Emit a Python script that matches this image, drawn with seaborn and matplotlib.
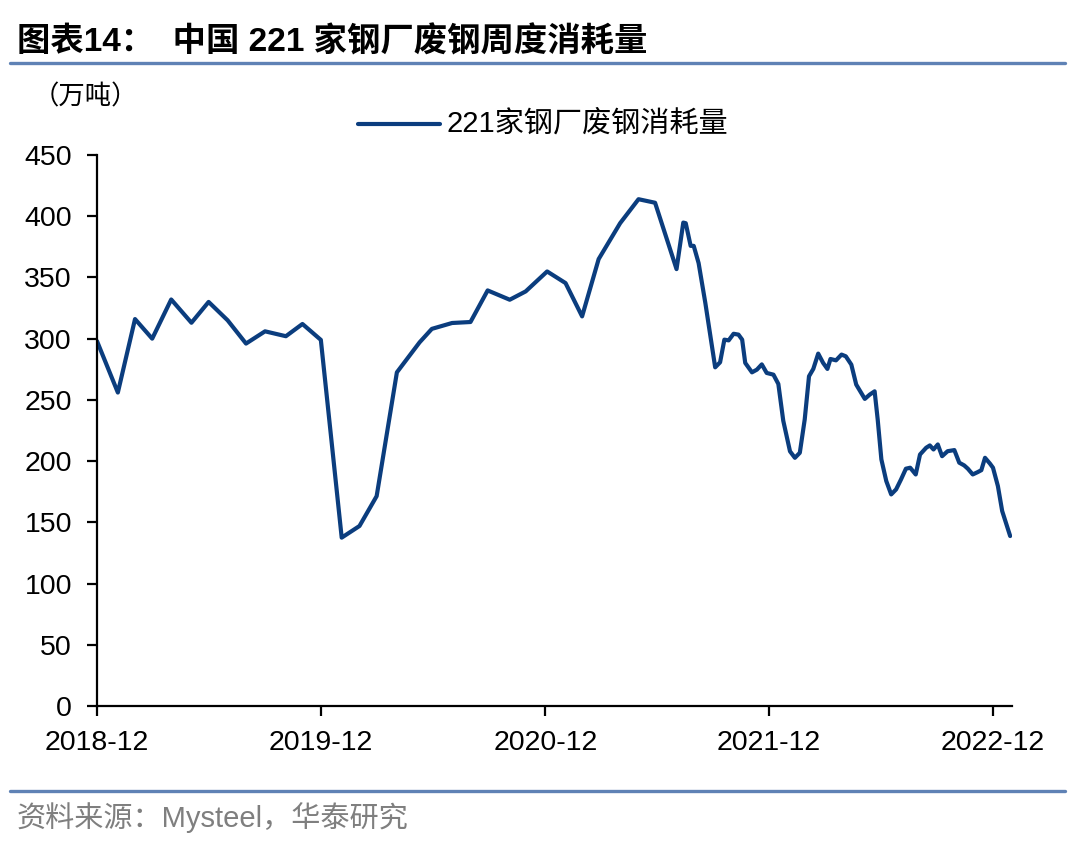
import matplotlib
matplotlib.use("Agg")
import matplotlib.pyplot as plt
import matplotlib.lines as mlines
import seaborn as sns
import pandas as pd

dates = [
    "2018-12-01", "2019-01-04", "2019-02-01", "2019-03-01", "2019-04-01", "2019-05-04",
    "2019-06-01", "2019-07-02", "2019-08-01", "2019-09-01", "2019-10-05", "2019-11-01",
    "2019-12-01", "2020-01-04", "2020-02-02", "2020-03-01", "2020-04-03", "2020-05-10",
    "2020-05-30", "2020-07-02", "2020-08-01", "2020-08-29", "2020-10-04", "2020-10-30",
    "2020-12-04", "2021-01-03", "2021-01-30", "2021-02-26", "2021-04-02", "2021-05-02",
    "2021-05-29", "2021-07-03", "2021-07-14", "2021-07-18", "2021-07-26", "2021-07-31",
    "2021-08-08", "2021-08-19", "2021-09-04", "2021-09-12", "2021-09-19", "2021-09-26",
    "2021-10-04", "2021-10-12", "2021-10-18", "2021-10-23", "2021-11-03", "2021-11-11",
    "2021-11-19", "2021-11-27", "2021-12-08", "2021-12-16", "2021-12-24", "2022-01-04",
    "2022-01-12", "2022-01-20", "2022-01-28", "2022-02-04", "2022-02-11", "2022-02-19",
    "2022-02-27", "2022-03-06", "2022-03-11", "2022-03-20", "2022-03-29", "2022-04-05",
    "2022-04-14", "2022-04-22", "2022-05-06", "2022-05-14", "2022-05-22", "2022-05-27",
    "2022-06-02", "2022-06-10", "2022-06-18", "2022-06-26", "2022-07-04", "2022-07-12",
    "2022-07-19", "2022-07-28", "2022-08-04", "2022-08-14", "2022-08-20", "2022-08-26",
    "2022-09-02", "2022-09-09", "2022-09-18", "2022-09-29", "2022-10-07", "2022-10-15",
    "2022-10-21", "2022-10-29", "2022-11-06", "2022-11-12", "2022-11-18", "2022-11-26",
    "2022-12-01", "2022-12-09", "2022-12-16", "2022-12-29",
]
consumption = [
    298, 256, 316, 300, 332, 313,
    330, 315, 296, 306, 302, 312,
    299, 137.5, 147, 171.4, 272.5, 297,
    308, 312.8, 313.6, 339.4, 331.8, 338.6,
    354.9, 345.4, 318.2, 365, 394.3, 413.9,
    411, 356.8, 394.8, 394.3, 375.8, 375.8,
    361.7, 329, 276.6, 280.7, 299.2, 298.6,
    304, 303.3, 299.2, 280.2, 272.5, 274.7,
    279, 272, 270.6, 263, 233, 208,
    202.7, 206.8, 234, 269.3, 275.3, 287.8,
    280.2, 275.3, 283.4, 282.3, 287, 285.6,
    278.8, 262.5, 250.8, 254.3, 257, 234,
    201.4, 183.7, 172.8, 176.9, 185, 193.8,
    194.6, 189.1, 205.4, 210.9, 212.8, 209.5,
    213.6, 204, 208.1, 209, 198.7, 196.5,
    193.8, 189.1, 191, 192.6, 202.7, 198,
    194.6, 179.6, 159.2, 138.8,
]
tick_dates = ["2018-12-01", "2019-12-01", "2020-12-01", "2021-12-01", "2022-12-01"]
tick_labels = ["2018-12", "2019-12", "2020-12", "2021-12", "2022-12"]
y_ticks = [0, 50, 100, 150, 200, 250, 300, 350, 400, 450]

series_name = "221家钢厂废钢消耗量"
title_text = "图表14：  中国 221 家钢厂废钢周度消耗量"
unit_text = "（万吨）"
source_text = "资料来源：Mysteel，华泰研究"

df = pd.DataFrame({"date": pd.to_datetime(dates), "value": consumption})

sns.set_theme(style="white")
plt.rcParams["font.family"] = ["Liberation Sans", "Noto Sans CJK SC", "DejaVu Sans"]

LINE = "#0B3D7E"
RULE = "#5F82B5"

fig = plt.figure(figsize=(10.8, 8.49), dpi=100)
ax = fig.add_axes([97 / 1080, 1 - 706 / 849, (1012 - 97) / 1080, (706 - 155) / 849])

sns.lineplot(data=df, x="date", y="value", ax=ax, color=LINE, linewidth=3.0, legend=False)

ax.set_ylim(0, 450)
ax.set_xlim(pd.Timestamp("2018-12-01"), pd.Timestamp("2023-01-01"))
ax.set_yticks(y_ticks)
ax.set_xticks(pd.to_datetime(tick_dates))
ax.set_xticklabels(tick_labels)
ax.set_xlabel("")
ax.set_ylabel("")

for side in ["top", "right"]:
    ax.spines[side].set_visible(False)
for side in ["left", "bottom"]:
    ax.spines[side].set_color("black")
    ax.spines[side].set_linewidth(1.6)
ax.tick_params(axis="both", which="major", direction="out", length=7, width=1.6,
               colors="black", labelsize=20.5, labelcolor="black",
               bottom=True, left=True)
ax.tick_params(axis="y", pad=11)
ax.tick_params(axis="x", pad=10)
ax.grid(False)

# title and rules
fig.text(17 / 1080, 1 - 42 / 849, title_text, fontsize=24, fontweight="bold",
         ha="left", va="center", color="black")
fig.add_artist(mlines.Line2D([10 / 1080, 1065 / 1080], [1 - 63 / 849, 1 - 63 / 849],
                             color=RULE, linewidth=2.4, transform=fig.transFigure))
fig.add_artist(mlines.Line2D([10 / 1080, 1065 / 1080], [1 - 791 / 849, 1 - 791 / 849],
                             color=RULE, linewidth=2.4, transform=fig.transFigure))

fig.text(33 / 1080, 1 - 97 / 849, unit_text, fontsize=19, ha="left", va="center", color="black")

# legend
fig.add_artist(mlines.Line2D([358 / 1080, 440 / 1080], [1 - 124 / 849, 1 - 124 / 849],
                             color=LINE, linewidth=3.0, transform=fig.transFigure))
fig.text(447 / 1080, 1 - 124 / 849, series_name, fontsize=21, ha="left", va="center",
         color="black")

fig.text(17 / 1080, 1 - 818 / 849, source_text, fontsize=21, ha="left", va="center",
         color="#7F7F7F")

fig.savefig("out.png", dpi=100)
